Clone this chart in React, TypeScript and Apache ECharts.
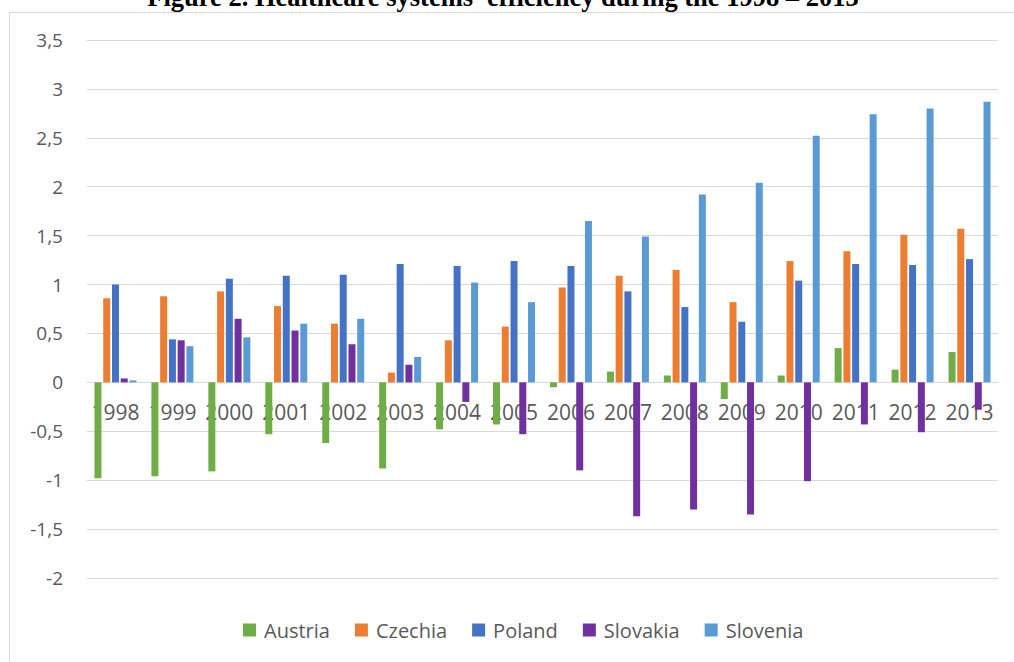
import React, { useEffect, useRef } from "react";
import * as echarts from "echarts";

const years = ["1998","1999","2000","2001","2002","2003","2004","2005","2006","2007","2008","2009","2010","2011","2012","2013"];
const austria = [-0.98,-0.96,-0.91,-0.53,-0.62,-0.88,-0.48,-0.43,-0.05,0.11,0.07,-0.17,0.07,0.35,0.13,0.31];
const czechia = [0.86,0.88,0.93,0.78,0.60,0.10,0.43,0.57,0.97,1.09,1.15,0.82,1.24,1.34,1.51,1.57];
const poland = [1.00,0.44,1.06,1.09,1.10,1.21,1.19,1.24,1.19,0.93,0.77,0.62,1.04,1.21,1.20,1.26];
const slovakia = [0.04,0.43,0.65,0.53,0.39,0.18,-0.20,-0.53,-0.90,-1.37,-1.30,-1.35,-1.01,-0.43,-0.51,-0.28];
const slovenia = [0.02,0.37,0.46,0.60,0.65,0.26,1.02,0.82,1.65,1.49,1.92,2.04,2.52,2.74,2.80,2.87];

const seriesNames = ["Austria","Czechia","Poland","Slovakia","Slovenia"];
const seriesData = [austria, czechia, poland, slovakia, slovenia];
const colors = ["#70AD47","#ED7D31","#4472C4","#7030A0","#5B9BD5"];

const yMin = -2;
const yMax = 3.5;
const yStep = 0.5;

const titleText = "Figure 2. Healthcare systems' efficiency during the 1998 – 2013";

export default function App() {
  const ref = useRef<HTMLDivElement>(null);
  useEffect(() => {
    document.body.style.margin = "0";
    const chart = echarts.init(ref.current!, null, { renderer: "svg" });
    const font = "'Open Sans', 'Noto Sans', sans-serif";
    const gridTop = 40;
    const gridBottom = 84;
    const plotH = 662 - gridTop - gridBottom;
    const zeroOffset = -(plotH * (0 - yMin)) / (yMax - yMin);
    chart.setOption({
      animation: false,
      color: colors,
      graphic: [
        {
          type: "rect",
          shape: { x: 9.5, y: 12.5, width: 1200, height: 800 },
          style: { fill: "none", stroke: "#d9d9d9", lineWidth: 1 },
          z: -10,
          silent: true,
        },
        {
          type: "text",
          x: 503,
          y: 10,
          style: {
            text: titleText,
            font: "bold 26.5px 'Liberation Serif', 'Times New Roman', serif",
            fill: "#000",
            textAlign: "center",
            textVerticalAlign: "bottom",
          },
        },
      ],
      grid: { left: 87, right: 16, top: gridTop, bottom: gridBottom, containLabel: false },
      legend: {
        data: seriesNames,
        left: 238,
        top: 615,
        icon: "rect",
        itemWidth: 13,
        itemHeight: 13,
        itemGap: 25,
        textStyle: { fontSize: 20, color: "#595959", fontFamily: font, padding: [0, 0, 0, 3] },
      },
      xAxis: {
        type: "category",
        data: years,
        offset: zeroOffset,
        axisLine: { onZero: false, lineStyle: { color: "#d9d9d9", width: 1 } },
        axisTick: { show: false },
        axisLabel: { fontSize: 21, color: "#595959", fontFamily: font, margin: 19, interval: 0 },
        splitLine: { show: false },
      },
      yAxis: {
        type: "value",
        min: yMin,
        max: yMax,
        interval: yStep,
        axisLine: { show: false },
        axisTick: { show: false },
        axisLabel: {
          fontSize: 19,
          color: "#595959",
          fontFamily: font,
          margin: 24,
          formatter: (v: number) => String(v).replace(".", ","),
        },
        splitLine: { lineStyle: { color: "#d9d9d9", width: 1 } },
      },
      series: seriesNames.map((name, i) => ({
        name,
        type: "bar",
        data: seriesData[i],
        barWidth: 7,
        barGap: "25%",
        itemStyle: { color: colors[i] },
      })),
    });
    return () => chart.dispose();
  }, []);
  return <div ref={ref} style={{ width: 1014, height: 662 }} />;
}
